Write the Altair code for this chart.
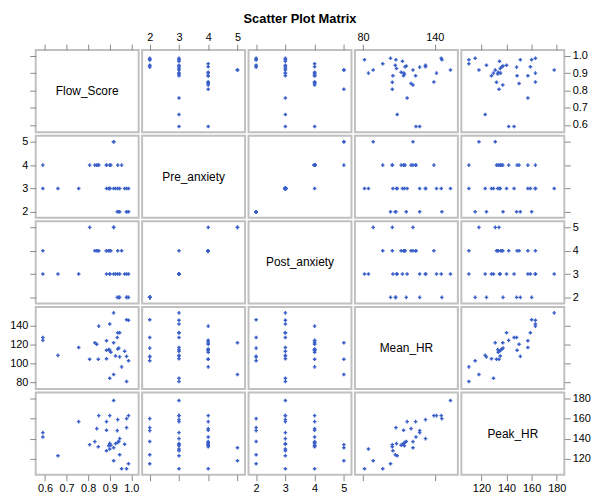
import altair as alt
import pandas as pd

# ---- data ----
names = ["Flow_Score", "Pre_anxiety", "Post_anxiety", "Mean_HR", "Peak_HR"]

mean_hr = [81.2, 84.5, 88.5, 96.5, 103, 104.5, 104.5, 105, 107, 107.5, 108, 108.6,
           111.9, 113, 113.9, 114.1, 114.6, 115.2, 116.2, 116.9, 120.2, 121.8, 121.8,
           124, 124.3, 127.4, 127.4, 132.3, 132.3, 139.3, 141.5, 145.5, 146, 153.2]
peak_hr = [110, 129.6, 118, 110, 115, 134, 132, 128, 124, 151, 135, 123,
           133.4, 134.4, 148.4, 135.3, 133, 136.3, 137.2, 157, 150, 137, 131,
           157, 141.7, 148, 146, 159, 140, 163, 163, 163, 160, 178]
flow_score = [0.978, 0.900, 0.918, 0.955, 0.987, 0.807, 0.847, 0.885, 0.946, 0.978, 0.927, 0.660,
              0.905, 0.969, 0.885, 0.900, 0.895, 0.937, 0.942, 0.756, 0.840, 0.831, 0.918,
              0.885, 0.590, 0.935, 0.590, 0.937, 0.946, 0.849, 0.900, 0.987, 0.978, 0.918]
pre_anxiety = [3, 3, 5, 4, 2, 4, 4, 3, 2, 2, 3, 3,
               4, 3, 4, 4, 3, 4, 2, 3, 4, 4, 5,
               4, 4, 2, 3, 3, 3, 4, 3, 3, 2, 3]
post_anxiety = [3, 3, 5, 4, 2, 5, 4, 3, 2, 2, 3, 3,
                4, 3, 4, 4, 4, 4, 2, 3, 4, 4, 5,
                4, 4, 2, 3, 3, 3, 4, 3, 3, 2, 3]

flow_ticks = [0.6, 0.7, 0.8, 0.9, 1.0]
anx_ticks = [2, 3, 4, 5]
mean_ticks_x = [80, 140]
mean_ticks_y = [80, 100, 120, 140]
peak_ticks = [120, 140, 160, 180]

df = pd.DataFrame({
    "Flow_Score": flow_score,
    "Pre_anxiety": pre_anxiety,
    "Post_anxiety": post_anxiety,
    "Mean_HR": mean_hr,
    "Peak_HR": peak_hr,
})

domains = {
    "Flow_Score": [0.557, 1.034],
    "Pre_anxiety": [1.74, 5.26],
    "Post_anxiety": [1.74, 5.26],
    "Mean_HR": [73.2, 159.4],
    "Peak_HR": [104, 186],
}
xticks = {"Flow_Score": flow_ticks, "Pre_anxiety": anx_ticks, "Post_anxiety": anx_ticks,
          "Mean_HR": mean_ticks_x, "Peak_HR": peak_ticks}
yticks = {"Flow_Score": flow_ticks, "Pre_anxiety": anx_ticks, "Post_anxiety": anx_ticks,
          "Mean_HR": mean_ticks_y, "Peak_HR": peak_ticks}
fmts = {"Flow_Score": ".1f", "Pre_anxiety": "d", "Post_anxiety": "d", "Mean_HR": "d", "Peak_HR": "d"}

W, H = 104, 83
FONT = "Liberation Sans"
TICK = "#8a8a8a"
PT = "#3a5fc8"


def make_axis(orient, var, vals, labels):
    return alt.Axis(orient=orient, values=vals, labels=labels, ticks=True, tickSize=6,
                    tickColor=TICK, tickWidth=1, domain=False, grid=False, title=None,
                    labelFont=FONT, labelFontSize=11, labelColor="#000", labelPadding=2,
                    format=fmts[var], labelFlush=False, labelOverlap=False)


def x_enc(r, c):
    var = names[c]
    scale = alt.Scale(domain=domains[var], nice=False, zero=False)
    if r == 0:
        ax = make_axis("top", var, xticks[var], c in (1, 3))
    elif r == 4:
        ax = make_axis("bottom", var, xticks[var], c in (0, 2, 4))
    else:
        ax = None
    if ax is None:
        return alt.X(f"{var}:Q", scale=scale, axis=None)
    return alt.X(f"{var}:Q", scale=scale, axis=ax)


def y_enc(r, c):
    var = names[r]
    scale = alt.Scale(domain=domains[var], nice=False, zero=False)
    if c == 0:
        ax = make_axis("left", var, yticks[var], r in (1, 3))
    elif c == 4:
        ax = make_axis("right", var, yticks[var], r in (0, 2, 4))
    else:
        ax = None
    if ax is None:
        return alt.Y(f"{var}:Q", scale=scale, axis=None)
    return alt.Y(f"{var}:Q", scale=scale, axis=ax)


cells = []
for r in range(5):
    for c in range(5):
        pts = alt.Chart(df).mark_point(shape="cross", filled=True, size=13,
                                       color=PT, opacity=1 if r != c else 0).encode(
            x=x_enc(r, c), y=y_enc(r, c))
        if r == c:
            lab = alt.Chart(pd.DataFrame({"t": [names[r]]})).mark_text(
                font=FONT, fontSize=12, color="#000").encode(
                text="t:N", x=alt.value(W / 2), y=alt.value(H / 2))
            cell = alt.layer(pts, lab).properties(width=W, height=H)
        else:
            cell = pts.properties(width=W, height=H)
        cells.append(cell)

chart = alt.concat(*cells, columns=5, spacing=3.5, bounds="flush").properties(
    title=alt.Title("Scatter Plot Matrix", font=FONT, fontSize=13, fontWeight="bold",
                    color="#000", anchor="middle", offset=4),
    padding={"left": 0, "top": 3, "right": 0, "bottom": 0},
).configure_view(stroke="#c0c0c0", strokeWidth=2)

chart.save("out.html", embed_options={"renderer": "svg", "actions": False})
